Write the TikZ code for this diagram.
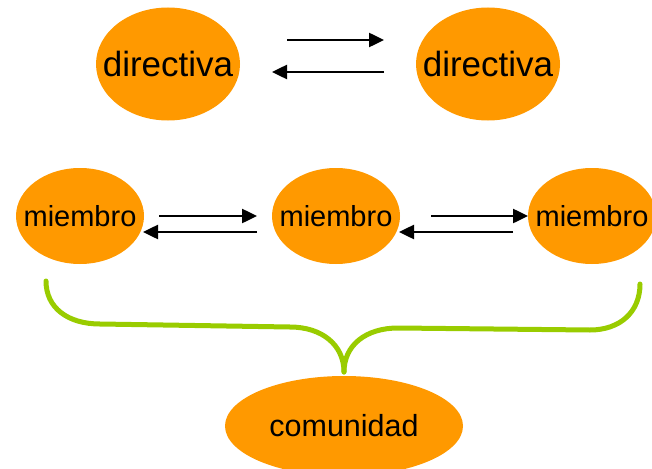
\documentclass[tikz,border=0pt]{standalone}
\usepackage{fontspec}
\setmainfont{Liberation Sans}
\usetikzlibrary{shapes.geometric,arrows.meta}
\definecolor{blob}{HTML}{FF9900}
\definecolor{bracegreen}{HTML}{99CC00}
\tikzset{
  blob/.style={ellipse, fill=blob, inner sep=0pt, text=black},
  topblob/.style={blob, minimum width=144pt, minimum height=113pt, font=\fontsize{35}{40}\selectfont},
  midblob/.style={blob, minimum width=128pt, minimum height=96pt, font=\fontsize{29}{34}\selectfont},
  lowblob/.style={blob, minimum width=238pt, minimum height=100pt, font=\fontsize{30.5}{35}\selectfont},
  link/.style={line width=2.5pt, -{Triangle[length=15pt,width=14pt]}},
  bracket/.style={line width=5pt, bracegreen, line cap=round, line join=round}
}
\newcommand{\lbl}[1]{\makebox[0pt][c]{#1}}
\begin{document}
\begin{tikzpicture}[x=1pt,y=-1pt]
  \useasboundingbox (0,0) rectangle (652,468);

  % leadership pair
  \node[topblob] (d1) at (168,64) {\lbl{directiva}};
  \node[topblob] (d2) at (488,64) {\lbl{directiva}};

  % members
  \node[midblob] (m1) at (80,216) {\lbl{miembro}};
  \node[midblob] (m2) at (336,216) {\lbl{miembro}};
  \node[midblob] (m3) at (592,216) {\lbl{miembro}};

  % community
  \node[lowblob] (c) at (344,426) {\lbl{comunidad}};

  % arrow end points
  \coordinate (d12a) at (287,40);  \coordinate (d12b) at (384,40);
  \coordinate (d21a) at (384,72);  \coordinate (d21b) at (272,72);
  \coordinate (m12a) at (159,216); \coordinate (m12b) at (257,216);
  \coordinate (m21a) at (257,232); \coordinate (m21b) at (143,232);
  \coordinate (m23a) at (431,216); \coordinate (m23b) at (528,216);
  \coordinate (m32a) at (513,232); \coordinate (m32b) at (399,232);

  \draw[link] (d12a) -- (d12b);
  \draw[link] (d21a) -- (d21b);
  \draw[link] (m12a) -- (m12b);
  \draw[link] (m21a) -- (m21b);
  \draw[link] (m23a) -- (m23b);
  \draw[link] (m32a) -- (m32b);

  % brace gathering the members into the community
  \coordinate (bl) at (46,281);
  \coordinate (bm) at (344,372);
  \coordinate (br) at (640,284);
  \draw[bracket] (bl) .. controls (46,308) and (68,324) .. (100,324)
    -- (290,327) .. controls (322,327) and (344,345) .. (bm);
  \draw[bracket] (bm) .. controls (344,345) and (366,328) .. (398,328)
    -- (590,330) .. controls (620,330) and (640,312) .. (br);
\end{tikzpicture}
\end{document}
